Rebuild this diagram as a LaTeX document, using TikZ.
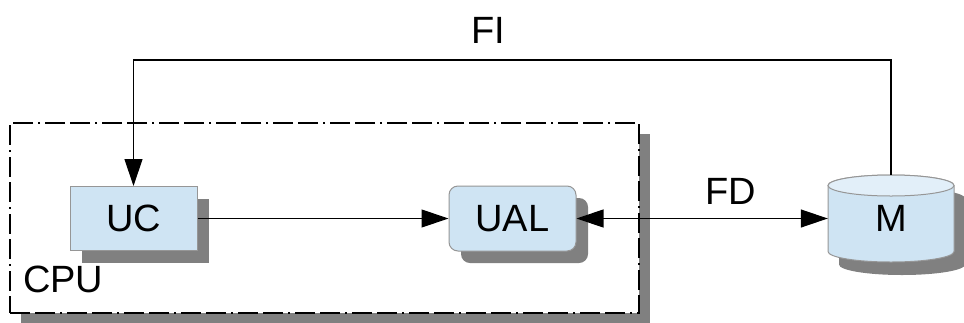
\documentclass[tikz,border=0pt]{standalone}
\usepackage{fontspec}
\setmainfont{Liberation Sans}
\usetikzlibrary{arrows.meta,shadows}

\definecolor{boxfill}{RGB}{207,228,243}
\definecolor{boxedge}{RGB}{150,150,150}
\definecolor{shadowgray}{RGB}{128,128,128}
\definecolor{captop}{RGB}{226,239,249}

\tikzset{bigtip/.tip={Triangle[length=27pt,width=18pt]}}

\begin{document}
\begin{tikzpicture}[x=1pt,y=-1pt,
  lbl/.style={font=\fontsize{38}{40}\selectfont, inner sep=0pt},
  shadowed/.style={drop shadow={shadow xshift=12pt, shadow yshift=-12pt, fill=shadowgray, opacity=1}},
  unit/.style={lbl, draw=boxedge, line width=1pt, fill=boxfill,
    minimum width=127pt, minimum height=64pt, shadowed},
  frame/.style={draw=black, fill=white, line width=1.3pt,
    dash pattern=on 20pt off 5pt on 20pt off 5pt on 2pt off 5pt,
    drop shadow={shadow xshift=11pt, shadow yshift=-11pt, fill=shadowgray, opacity=1}},
  wire/.style={line width=1.2pt},
]
\useasboundingbox (0,0) rectangle (964,322);

% processor boundary
\node[frame, minimum width=629pt, minimum height=190pt] (cpu) at (324.5,218) {};
\node[lbl, anchor=base west] (cpulbl) at (23,292) {CPU};

% control unit and ALU
\node[unit] (UC) at (133.5,218.5) {UC};
\node[unit, rounded corners=9pt, minimum height=65pt] (UAL) at (512.5,218.5) {UAL};

% memory drum with its shadow
\begin{scope}[shift={(11,13)}]
  \fill[shadowgray] (828,185.5) -- (828,251.5)
    arc[start angle=180,end angle=360,x radius=63pt,y radius=10.5pt]
    -- (954,185.5)
    arc[start angle=0,end angle=180,x radius=63pt,y radius=10.5pt] -- cycle;
\end{scope}
\draw[draw=boxedge, line width=1pt, fill=boxfill] (828,185.5) -- (828,251.5)
    arc[start angle=180,end angle=360,x radius=63pt,y radius=10.5pt]
    -- (954,185.5)
    arc[start angle=0,end angle=180,x radius=63pt,y radius=10.5pt] -- cycle;
\draw[draw=boxedge, line width=1pt, fill=captop] (891,185.5) ellipse[x radius=63pt, y radius=10.5pt];
\node[lbl, minimum width=126pt, minimum height=87pt] (M) at (891,218.5) {M};

% buses
\coordinate (fitop) at (0,60);
\draw[wire, -bigtip] (M.north) -- (M.north |- fitop) -- (UC.north |- fitop) -- (UC.north);
\draw[wire, -bigtip] (UC) -- (UAL);
\draw[wire, bigtip-bigtip] (UAL) -- (M);

\node[lbl, anchor=base] (fi) at (488,43) {FI};
\node[lbl, anchor=base] (fd) at (731,204) {FD};
\end{tikzpicture}
\end{document}
